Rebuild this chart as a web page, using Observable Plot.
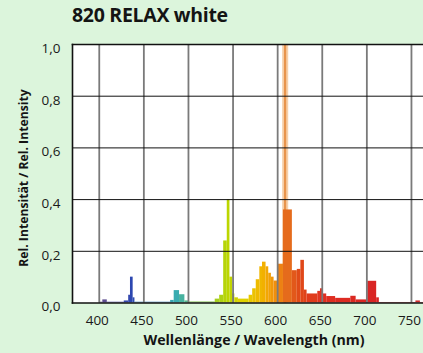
<!DOCTYPE html>
<html><head><meta charset="utf-8">
<script src="https://cdn.jsdelivr.net/npm/d3@7"></script>
<script src="https://cdn.jsdelivr.net/npm/@observablehq/plot@0.6"></script>
<style>
html,body{margin:0;padding:0}
body{background:#dcf5dc;width:423px;height:353px;overflow:hidden;position:relative;font-family:"Open Sans",sans-serif}
#title{position:absolute;left:72px;top:4.5px;font-size:19.5px;font-weight:700;line-height:1;color:#141414;letter-spacing:-0.3px;margin:0}
#chart{position:absolute;left:0;top:34px}
</style></head><body>
<h2 id="title"></h2>
<div id="chart"></div>
<script>
const title = "820 RELAX white";
const xLabel = "Wellenlänge / Wavelength (nm)";
const yLabel = "Rel. Intensität / Rel. Intensity";
const xTicks = [400, 450, 500, 550, 600, 650, 700, 750];
const yTicks = [0, 0.2, 0.4, 0.6, 0.8, 1.0];
const yTickLabels = ["0,0", "0,2", "0,4", "0,6", "0,8", "1,0"];

// spectrum as steps: intensity[i] spans edges[i]..edges[i+1] (nm)
const edges = [380,400,404,409,428,433,435,438,440,480,484,490,496,500,530,535,539.5,543.5,546.5,549.5,552,556,568,572,576,580,583,587,590,593,596,600,606.5,616.5,622,626,630,633,645,648,651,655,665,682,688,701,711,714,755,760,770];
const intensity = [0,0.003,0.012,0.003,0.008,0.03,0.10,0.02,0.003,0.01,
  0.048,0.032,0.008,0.004,0.015,0.03,0.24,0.40,0.10,0.035,
  0.02,0.015,0.03,0.055,0.09,0.14,0.158,0.14,0.115,0.10,
  0.085,0.15,0.36,0.125,0.13,0.165,0.05,0.035,0.045,
  0.055,0.035,0.025,0.018,0.026,0.012,0.084,0.02,0.002,0.008,
  0.002];
// the narrow line at ~609 nm
const spikeStart = [606.5];
const spikeEnd = [611.5];
const spikeValue = [1.0];

// wavelength -> colour stops
const colorDomain = [380, 410, 436, 488, 520, 545, 565, 585, 600, 612, 625, 650, 710, 770];
const colorRange = ["#6a5a8a", "#5a4a90", "#2c46b0", "#3aaeb0", "#90c840", "#bcd600", "#e6d000", "#f2b000", "#f08a10", "#e46a1c", "#e04a18", "#e03020", "#d82424", "#d03030"];

document.getElementById("title").textContent = title;

const bins = intensity.map((v, i) => ({x1: edges[i], x2: edges[i + 1], v, mid: (edges[i] + edges[i + 1]) / 2}));
const spike = spikeValue.map((v, i) => ({x1: spikeStart[i], x2: spikeEnd[i], v}));

const chart = Plot.plot({
  width: 423,
  height: 319,
  marginLeft: 72,
  marginRight: 0,
  marginTop: 10,
  marginBottom: 50.5,
  style: {background: "transparent", fontFamily: "'Open Sans', sans-serif", fontSize: "13px", color: "#1a1a1a", overflow: "visible"},
  x: {domain: [370, 763.5]},
  y: {domain: [0, 1]},
  color: {type: "linear", domain: colorDomain, range: colorRange, interpolate: "rgb"},
  marks: [
    Plot.frame({fill: "white", stroke: null}),
    Plot.rectY(spike, {x1: "x1", x2: "x2", y: "v", fill: "#f6d0aa", insetLeft: -0.8, insetRight: -0.8}),
    Plot.rectY(spike, {x1: "x1", x2: "x2", y: "v", fill: "#e8944c", insetLeft: 1, insetRight: 1.2}),
    Plot.rectY(bins, {x1: "x1", x2: "x2", y: "v", fill: d => d.mid}),
    Plot.gridX(xTicks, {stroke: "#7a7a7a", strokeOpacity: 1, strokeWidth: 1.8}),
    Plot.gridY(yTicks.slice(1), {stroke: "#111", strokeOpacity: 1, strokeWidth: 1}),
    Plot.frame({anchor: "left", stroke: "#111", strokeWidth: 1.6}),
    Plot.frame({anchor: "top", stroke: "#111", strokeWidth: 1.6}),
    Plot.frame({anchor: "bottom", stroke: "#111", strokeWidth: 1.6}),
    Plot.axisX(xTicks, {tickSize: 0, tickPadding: 12.5, dx: -2, fontSize: 13.5, label: null, tickFormat: d => String(d)}),
    Plot.axisY(yTicks, {tickSize: 0, tickPadding: 12, dy: 4, fontSize: 13.5, label: null, tickFormat: d => yTickLabels[yTicks.indexOf(d)]}),
    Plot.text([xLabel], {frameAnchor: "bottom", lineAnchor: "middle", dy: 37.5, dx: 6, fontWeight: "bold", fontSize: 14.2, fill: "#141414"}),
    Plot.text([yLabel], {frameAnchor: "left", textAnchor: "middle", lineAnchor: "middle", rotate: -90, dx: -48.7, dy: 4.3, fontWeight: "bold", fontSize: 12.2, fill: "#141414"})
  ]
});
document.getElementById("chart").append(chart);
</script>
</body></html>
